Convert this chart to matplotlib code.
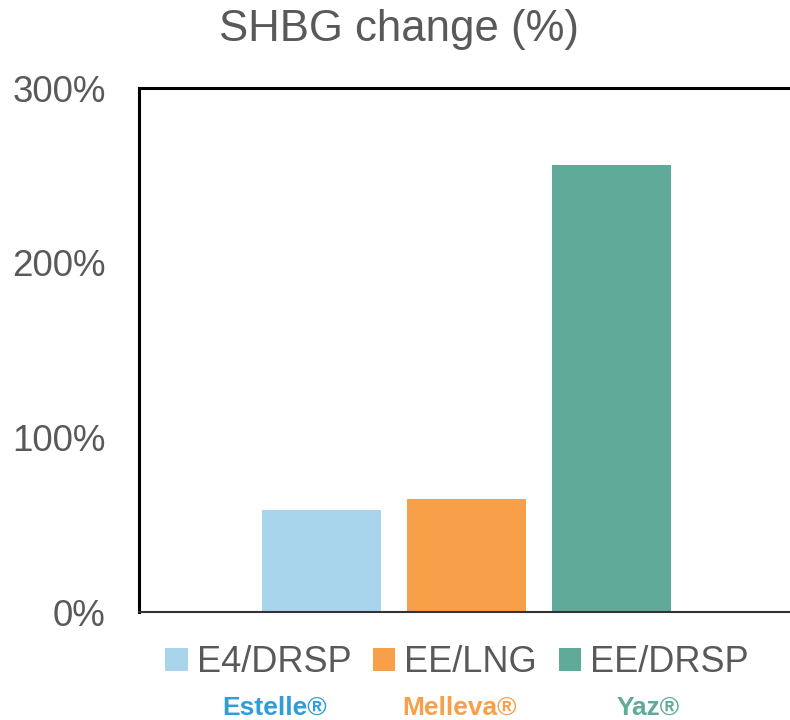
import matplotlib.pyplot as plt
from matplotlib.patches import Patch

# datos
treatments = ['E4/DRSP', 'EE/LNG', 'EE/DRSP']
brands = ['Estelle®', 'Melleva®', 'Yaz®']
shbg_change = [58.5, 64.5, 256]
bar_colors = ['#A9D5EC', '#F89F4A', '#60AA9A']
brand_colors = ['#2E9DD8', '#F89F4A', '#5FAA98']
yticks = [0, 100, 200, 300]
ytick_labels = ['0%', '100%', '200%', '300%']

plt.rcParams['font.family'] = ['Liberation Sans', 'DejaVu Sans']
gray = '#595959'

fig = plt.figure(figsize=(7.9, 7.2), dpi=100)
ax = fig.add_axes([139 / 790, 108 / 720, 655 / 790, 524 / 720])

x = list(range(len(treatments)))
ax.bar(x, shbg_change, width=0.82, color=bar_colors)

ax.set_xlim(-1.26, 3.26)
ax.set_ylim(0, 300)
ax.set_yticks(yticks)
ax.set_yticklabels(ytick_labels, fontsize=26.5, color=gray)
ax.set_xticks([])
ax.tick_params(axis='y', length=0, pad=24)

ax.spines['right'].set_visible(False)
ax.spines['top'].set_linewidth(2.2)
ax.spines['left'].set_linewidth(2.2)
ax.spines['bottom'].set_linewidth(1.5)
ax.spines['bottom'].set_color('#333333')

fig.text(399 / 790, 1 - 30 / 720, 'SHBG change (%)', fontsize=31.5, color=gray,
         ha='center', va='center')

handles = [Patch(facecolor=c, edgecolor='none') for c in bar_colors]
fig.legend(handles, treatments, loc='center', bbox_to_anchor=(457 / 790, 1 - 663 / 720),
           ncol=3, frameon=False, fontsize=26, labelcolor=gray,
           handlelength=0.62, handleheight=0.62, handletextpad=0.25,
           columnspacing=0.6, borderpad=0)

# nombres comerciales debajo de la leyenda
brand_x = [275, 460, 648]
for bx, name, col in zip(brand_x, brands, brand_colors):
    fig.text(bx / 790, 1 - 708 / 720, name, fontsize=19, fontweight='bold',
             color=col, ha='center', va='center')

fig.savefig('out.png', dpi=100)
